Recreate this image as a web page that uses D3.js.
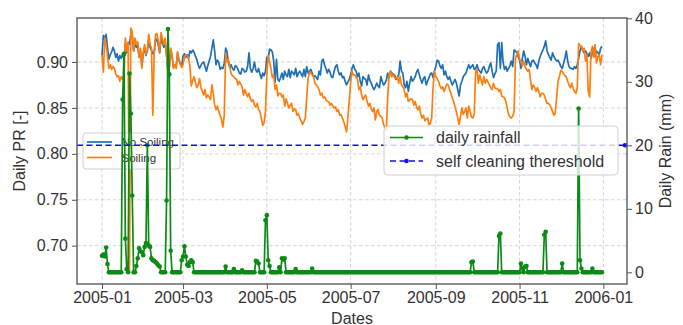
<!DOCTYPE html>
<html>
<head>
<meta charset="utf-8">
<script src="https://cdn.jsdelivr.net/npm/d3@7/dist/d3.min.js"></script>
<style>
body { margin: 0; background: #fff; }
svg text { font-family: "Liberation Sans", Arial, sans-serif; fill: #333; }
</style>
</head>
<body>
<script>
// daily values for 2005, one entry per day starting 2005-01-01
const startDate = new Date(2005, 0, 1);

const noSoiling = [
    // Jan
    0.907,0.929,0.926,0.930,0.915,0.903,0.908,0.911,0.916,0.912,
    0.905,0.909,0.901,0.907,0.904,0.909,0.903,0.921,0.910,0.918,
    0.920,0.930,0.929,0.912,0.920,0.916,0.918,0.905,0.912,0.895,
    0.909,
    // Feb
    0.915,0.907,0.912,0.925,0.916,0.913,0.909,0.910,0.924,0.925,
    0.918,0.910,0.926,0.921,0.916,0.922,0.907,0.890,0.895,0.913,
    0.906,0.894,0.897,0.895,0.910,0.902,0.898,0.896,
    // Mar
    0.906,0.909,0.905,0.908,0.904,0.912,0.910,0.913,0.911,0.906,
    0.903,0.897,0.893,0.896,0.899,0.900,0.895,0.890,0.896,0.901,
    0.906,0.915,0.924,0.912,0.897,0.902,0.900,0.892,0.894,0.893,
    0.898,
    // Apr
    0.915,0.911,0.900,0.894,0.897,0.893,0.891,0.896,0.895,0.892,
    0.888,0.887,0.893,0.892,0.889,0.890,0.895,0.910,0.893,0.889,
    0.893,0.900,0.891,0.889,0.893,0.887,0.882,0.888,0.885,0.890,
    // May
    0.905,0.904,0.914,0.913,0.911,0.901,0.878,0.903,0.881,0.879,
    0.883,0.888,0.881,0.890,0.886,0.884,0.892,0.883,0.890,0.888,
    0.886,0.893,0.884,0.888,0.890,0.887,0.884,0.892,0.884,0.895,
    0.888,
    // Jun
    0.890,0.892,0.888,0.884,0.885,0.883,0.881,0.890,0.886,0.901,
    0.903,0.897,0.893,0.888,0.892,0.889,0.884,0.883,0.890,0.895,
    0.897,0.890,0.886,0.888,0.883,0.884,0.879,0.875,0.878,0.881,
    // Jul
    0.886,0.893,0.897,0.892,0.890,0.884,0.888,0.879,0.874,0.884,
    0.882,0.881,0.875,0.886,0.880,0.877,0.873,0.870,0.873,0.877,
    0.874,0.872,0.884,0.879,0.875,0.877,0.880,0.888,0.883,0.890,
    0.888,
    // Aug
    0.887,0.886,0.881,0.883,0.886,0.901,0.890,0.888,0.875,0.872,
    0.879,0.868,0.877,0.884,0.879,0.881,0.884,0.889,0.892,0.886,
    0.881,0.877,0.882,0.884,0.875,0.879,0.883,0.887,0.888,0.883,
    0.890,
    // Sep
    0.895,0.902,0.901,0.896,0.893,0.897,0.886,0.890,0.884,0.881,
    0.884,0.879,0.875,0.878,0.881,0.877,0.870,0.863,0.875,0.879,
    0.884,0.886,0.888,0.893,0.897,0.893,0.895,0.897,0.892,0.893,
    // Oct
    0.897,0.892,0.890,0.888,0.893,0.895,0.891,0.888,0.890,0.895,
    0.899,0.890,0.883,0.887,0.890,0.919,0.921,0.893,0.921,0.900,
    0.892,0.895,0.890,0.893,0.896,0.901,0.895,0.913,0.912,0.910,
    0.906,
    // Nov
    0.902,0.893,0.904,0.912,0.906,0.897,0.904,0.899,0.895,0.901,
    0.902,0.899,0.897,0.893,0.901,0.906,0.910,0.913,0.917,0.923,
    0.912,0.908,0.905,0.902,0.910,0.906,0.903,0.901,0.902,0.899,
    // Dec
    0.895,0.893,0.898,0.904,0.912,0.901,0.895,0.893,0.893,0.892,
    0.895,0.893,0.897,0.904,0.912,0.917,0.913,0.910,0.912,0.909,
    0.906,0.910,0.904,0.910,0.915,0.906,0.912,0.910,0.908,0.915,
    0.917
];

const soiling = [
    // Jan
    0.907,0.889,0.926,0.918,0.906,0.893,0.897,0.892,0.895,0.893,
    0.887,0.884,0.885,0.879,0.884,0.881,0.884,0.926,0.912,0.922,
    0.672,0.937,0.933,0.912,0.926,0.919,0.922,0.905,0.915,0.893,
    0.911,
    // Feb
    0.919,0.908,0.914,0.930,0.919,0.915,0.842,0.911,0.930,0.931,
    0.922,0.911,0.932,0.925,0.919,0.926,0.908,0.886,0.893,0.915,
    0.908,0.893,0.897,0.893,0.911,0.903,0.898,0.894,
    // Mar
    0.897,0.905,0.908,0.907,0.904,0.896,0.874,0.880,0.884,0.878,
    0.872,0.875,0.882,0.872,0.868,0.864,0.870,0.861,0.864,0.862,
    0.859,0.875,0.866,0.853,0.848,0.852,0.846,0.842,0.837,0.829,
    0.842,
    // Apr
    0.910,0.900,0.903,0.895,0.887,0.885,0.884,0.882,0.881,0.875,
    0.879,0.876,0.873,0.864,0.870,0.866,0.862,0.866,0.860,0.857,
    0.859,0.853,0.851,0.855,0.848,0.846,0.839,0.831,0.834,0.846,
    // May
    0.885,0.907,0.900,0.893,0.883,0.886,0.870,0.875,0.863,0.866,
    0.866,0.862,0.864,0.852,0.860,0.855,0.850,0.853,0.855,0.846,
    0.849,0.848,0.842,0.844,0.839,0.836,0.832,0.835,0.839,0.861,
    0.882,
    // Jun
    0.889,0.888,0.886,0.884,0.877,0.875,0.873,0.870,0.864,0.866,
    0.861,0.862,0.859,0.857,0.857,0.853,0.855,0.852,0.850,0.851,
    0.846,0.848,0.842,0.843,0.839,0.835,0.830,0.824,0.839,0.858,
    // Jul
    0.877,0.890,0.886,0.886,0.883,0.881,0.870,0.873,0.864,0.859,
    0.862,0.864,0.857,0.852,0.855,0.849,0.846,0.850,0.837,0.846,
    0.848,0.842,0.841,0.839,0.832,0.828,0.826,0.862,0.886,0.890,
    0.884,
    // Aug
    0.887,0.883,0.882,0.884,0.877,0.884,0.875,0.873,0.870,0.862,
    0.866,0.857,0.859,0.860,0.859,0.853,0.857,0.851,0.848,0.852,
    0.844,0.839,0.842,0.836,0.838,0.839,0.832,0.833,0.839,0.872,
    0.890,
    // Sep
    0.884,0.882,0.879,0.874,0.871,0.873,0.868,0.872,0.876,0.875,
    0.870,0.866,0.861,0.857,0.851,0.846,0.839,0.832,0.841,0.850,
    0.843,0.846,0.850,0.839,0.852,0.846,0.840,0.839,0.843,0.890,
    // Oct
    0.892,0.877,0.886,0.880,0.875,0.884,0.877,0.881,0.878,0.875,
    0.872,0.870,0.877,0.872,0.871,0.871,0.868,0.870,0.863,0.862,
    0.861,0.857,0.850,0.843,0.840,0.839,0.841,0.846,0.904,0.908,
    0.912,
    // Nov
    0.903,0.900,0.896,0.901,0.895,0.892,0.890,0.892,0.880,0.870,
    0.875,0.872,0.868,0.872,0.868,0.862,0.866,0.866,0.864,0.859,
    0.855,0.855,0.853,0.850,0.846,0.842,0.844,0.862,0.879,0.884,
    // Dec
    0.891,0.890,0.887,0.885,0.884,0.879,0.875,0.872,0.877,0.871,
    0.868,0.866,0.872,0.920,0.918,0.917,0.912,0.915,0.901,0.908,
    0.868,0.862,0.911,0.917,0.905,0.919,0.899,0.906,0.908,0.897,
    0.908
];

// rainy days (day of year, 0 = Jan 1) and rain in mm; all other days are 0 mm
const rainDays = [
    0, 1, 2, 3, 4,
    15, 16, 17, 18, 20, 21, 22,
    25, 26, 27, 28, 29, 30, 31, 32, 33, 34, 35, 36, 37, 38, 39, 40, 41, 42,
    47, 48, 49, 50,
    58, 59, 60, 61, 62, 63, 64, 65, 66,
    90, 96, 102, 112, 113, 114, 119, 120, 121, 122, 129, 131, 132, 133, 141, 153,
    269, 270, 289, 290, 305, 306, 308, 309, 322, 323, 335, 347, 348, 349, 357
];
const rainMm = [
    2.6, 2.8, 2.5, 3.9, 1.3,
    27.2, 34.4, 5.3, 0.5, 31.3, 25.0, 12.1,
    1.0, 2.2, 3.8, 3.3, 3.2, 2.7, 4.0, 4.6, 20.0, 4.2, 4.0, 2.2, 1.9, 1.8, 1.6, 1.4, 1.1, 0.9,
    11.3, 38.3, 31.2, 3.4,
    1.9, 2.5, 4.1, 2.5, 1.2, 1.0, 1.6, 1.9, 1.6,
    0.9, 0.5, 0.3, 1.8, 1.7, 1.4, 8.2, 9.0, 1.9, 1.0, 0.8, 2.2, 2.0, 2.2, 0.5, 0.6,
    1.6, 1.7, 5.7, 6.1, 1.4, 0.6, 0.9, 1.0, 5.9, 6.4, 1.4, 25.8, 1.9, 0.6, 0.6
];

const cleaningThreshold = 20;
const prTicks = [0.70, 0.75, 0.80, 0.85, 0.90];
const rainTicks = [0, 10, 20, 30, 40];
const prNames = ["No Soiling", "Soiling"];
const rainNames = ["daily rainfall", "self cleaning thereshold"];

window.onload = initPage;

function initPage() {
    const chart = {
        WIDTH: 683,
        HEIGHT: 325,
        LEFT: 77,
        RIGHT: 627,
        TOP: 18,
        BOTTOM: 284,
        BLUE: "#1f6fb4",
        ORANGE: "#ff7f0e",
        GREEN: "#0c8a16",
        DASH_BLUE: "#1010e8",
    };
    const svg = d3.select("body")
        .append("svg")
        .attr("width", chart.WIDTH)
        .attr("height", chart.HEIGHT);
    const scales = makeScales(chart);
    drawGrid(svg, chart, scales);
    drawPrLines(svg, chart, scales);
    drawPrLegend(svg, chart);
    drawRain(svg, chart, scales);
    drawAxes(svg, chart, scales);
    drawRainLegend(svg, chart);
}

function makeScales(chart) {
    const dates = noSoiling.map((v, i) => d3.timeDay.offset(startDate, i));
    const first = dates[0];
    const last = dates[dates.length - 1];
    // 5% padding on each side of the date range
    const pad = Math.round((last - first) / 36e5 * 0.05);
    const x = d3.scaleTime()
        .domain([d3.timeHour.offset(first, -pad), d3.timeHour.offset(last, pad)])
        .range([chart.LEFT, chart.RIGHT]);
    const yPr = d3.scaleLinear()
        .domain([0.6583, 0.9479])
        .range([chart.BOTTOM, chart.TOP]);
    const yRain = d3.scaleLinear()
        .domain([-1.84, 40.05])
        .range([chart.BOTTOM, chart.TOP]);
    const rain = dates.map(() => 0);
    rainDays.forEach((d, i) => { rain[d] = rainMm[i]; });
    return { x, yPr, yRain, dates, rain };
}

function drawGrid(svg, chart, scales) {
    const grid = svg.append("g")
        .attr("stroke", "#cfcfcf")
        .attr("stroke-width", 0.9)
        .attr("stroke-dasharray", "3.5,2.5");
    grid.selectAll(".vgrid")
        .data(scales.x.ticks(d3.timeMonth.every(2)))
        .enter()
        .append("line")
        .attr("x1", (d) => scales.x(d))
        .attr("x2", (d) => scales.x(d))
        .attr("y1", chart.TOP)
        .attr("y2", chart.BOTTOM);
    grid.selectAll(".hgrid")
        .data(prTicks)
        .enter()
        .append("line")
        .attr("x1", chart.LEFT)
        .attr("x2", chart.RIGHT)
        .attr("y1", (d) => scales.yPr(d))
        .attr("y2", (d) => scales.yPr(d));
}

function drawPrLines(svg, chart, scales) {
    svg.append("clipPath")
        .attr("id", "plotClip")
        .append("rect")
        .attr("x", chart.LEFT)
        .attr("y", chart.TOP)
        .attr("width", chart.RIGHT - chart.LEFT)
        .attr("height", chart.BOTTOM - chart.TOP);
    const line = d3.line()
        .x((d, i) => scales.x(scales.dates[i]))
        .y((d) => scales.yPr(d));
    const g = svg.append("g").attr("clip-path", "url(#plotClip)");
    g.append("path")
        .attr("d", line(noSoiling))
        .attr("fill", "none")
        .attr("stroke", chart.BLUE)
        .attr("stroke-width", 1.7)
        .attr("stroke-linejoin", "round");
    g.append("path")
        .attr("d", line(soiling))
        .attr("fill", "none")
        .attr("stroke", chart.ORANGE)
        .attr("stroke-width", 1.7)
        .attr("stroke-linejoin", "round");
}

function drawPrLegend(svg, chart) {
    const colors = [chart.BLUE, chart.ORANGE];
    const legend = svg.append("g").attr("transform", "translate(83,133)");
    legend.append("rect")
        .attr("width", 97)
        .attr("height", 36)
        .attr("rx", 3)
        .attr("fill", "#fff")
        .attr("fill-opacity", 0.8)
        .attr("stroke", "#d0d0d0");
    const rows = legend.selectAll(".row")
        .data(prNames)
        .enter()
        .append("g")
        .attr("transform", (d, i) => `translate(0,${9 + i * 15.5})`);
    rows.append("line")
        .attr("x1", 4)
        .attr("x2", 29)
        .attr("stroke", (d, i) => colors[i])
        .attr("stroke-width", 1.7);
    rows.append("text")
        .attr("x", 38.5)
        .attr("dy", "0.35em")
        .style("font-size", "11.5px")
        .text((d) => d);
}

function drawRain(svg, chart, scales) {
    const g = svg.append("g").attr("clip-path", "url(#plotClip)");
    const line = d3.line()
        .x((d, i) => scales.x(scales.dates[i]))
        .y((d) => scales.yRain(d));
    g.append("path")
        .attr("d", line(scales.rain))
        .attr("fill", "none")
        .attr("stroke", chart.GREEN)
        .attr("stroke-width", 1.7)
        .attr("stroke-linejoin", "round");
    g.selectAll("circle")
        .data(scales.rain)
        .enter()
        .append("circle")
        .attr("cx", (d, i) => scales.x(scales.dates[i]))
        .attr("cy", (d) => scales.yRain(d))
        .attr("r", 2.3)
        .attr("fill", chart.GREEN);
    // self cleaning threshold across the whole axis, dot at its right end
    const ty = scales.yRain(cleaningThreshold);
    svg.append("line")
        .attr("x1", chart.LEFT)
        .attr("x2", chart.RIGHT)
        .attr("y1", ty)
        .attr("y2", ty)
        .attr("stroke", chart.DASH_BLUE)
        .attr("stroke-width", 1.6)
        .attr("stroke-dasharray", "6,3.5");
    svg.append("circle")
        .attr("cx", chart.RIGHT - 2)
        .attr("cy", ty)
        .attr("r", 2.3)
        .attr("fill", chart.DASH_BLUE);
}

function drawAxes(svg, chart, scales) {
    const left = svg.append("g")
        .attr("transform", `translate(${chart.LEFT},0)`)
        .call(d3.axisLeft(scales.yPr)
            .tickValues(prTicks)
            .tickFormat(d3.format(".2f"))
            .tickSize(5)
            .tickPadding(4));
    const right = svg.append("g")
        .attr("transform", `translate(${chart.RIGHT},0)`)
        .call(d3.axisRight(scales.yRain)
            .tickValues(rainTicks)
            .tickSize(5)
            .tickPadding(3));
    const bottom = svg.append("g")
        .attr("transform", `translate(0,${chart.BOTTOM})`)
        .call(d3.axisBottom(scales.x)
            .ticks(d3.timeMonth.every(2))
            .tickFormat(d3.timeFormat("%Y-%m"))
            .tickSize(5)
            .tickPadding(3));
    [left, right, bottom].forEach((axis) => {
        axis.select(".domain").remove();
        axis.selectAll("line").attr("stroke", "#555");
        axis.selectAll("text")
            .style("font-size", "16px")
            .attr("fill", "#333");
    });
    svg.append("rect")
        .attr("x", chart.LEFT)
        .attr("y", chart.TOP)
        .attr("width", chart.RIGHT - chart.LEFT)
        .attr("height", chart.BOTTOM - chart.TOP)
        .attr("fill", "none")
        .attr("stroke", "#5a5a5a")
        .attr("stroke-width", 1.4);
    svg.append("text")
        .attr("transform", "translate(19,151) rotate(-90)")
        .attr("text-anchor", "middle")
        .attr("dy", "0.35em")
        .style("font-size", "16px")
        .text("Daily PR [-]");
    svg.append("text")
        .attr("x", (chart.LEFT + chart.RIGHT) / 2)
        .attr("y", 323.5)
        .attr("text-anchor", "middle")
        .style("font-size", "16px")
        .text("Dates");
    svg.append("text")
        .attr("transform", "translate(665,151) rotate(-90)")
        .attr("text-anchor", "middle")
        .attr("dy", "0.35em")
        .style("font-size", "16px")
        .text("Daily Rain (mm)");
}

function drawRainLegend(svg, chart) {
    const legend = svg.append("g").attr("transform", "translate(384,126)");
    legend.append("rect")
        .attr("width", 234)
        .attr("height", 49)
        .attr("rx", 4)
        .attr("fill", "#fff")
        .attr("fill-opacity", 0.8)
        .attr("stroke", "#d0d0d0");
    const styles = [
        { color: chart.GREEN, dash: null },
        { color: chart.DASH_BLUE, dash: "6,3.5" },
    ];
    const rows = legend.selectAll(".row")
        .data(rainNames)
        .enter()
        .append("g")
        .attr("transform", (d, i) => `translate(0,${11.5 + i * 23.5})`);
    rows.append("line")
        .attr("x1", 6)
        .attr("x2", 39)
        .attr("stroke", (d, i) => styles[i].color)
        .attr("stroke-width", 1.6)
        .attr("stroke-dasharray", (d, i) => styles[i].dash);
    rows.append("circle")
        .attr("cx", 22.5)
        .attr("r", 2.3)
        .attr("fill", (d, i) => styles[i].color);
    rows.append("text")
        .attr("x", 52)
        .attr("dy", "0.35em")
        .style("font-size", "16px")
        .text((d) => d);
}
</script>
</body>
</html>
